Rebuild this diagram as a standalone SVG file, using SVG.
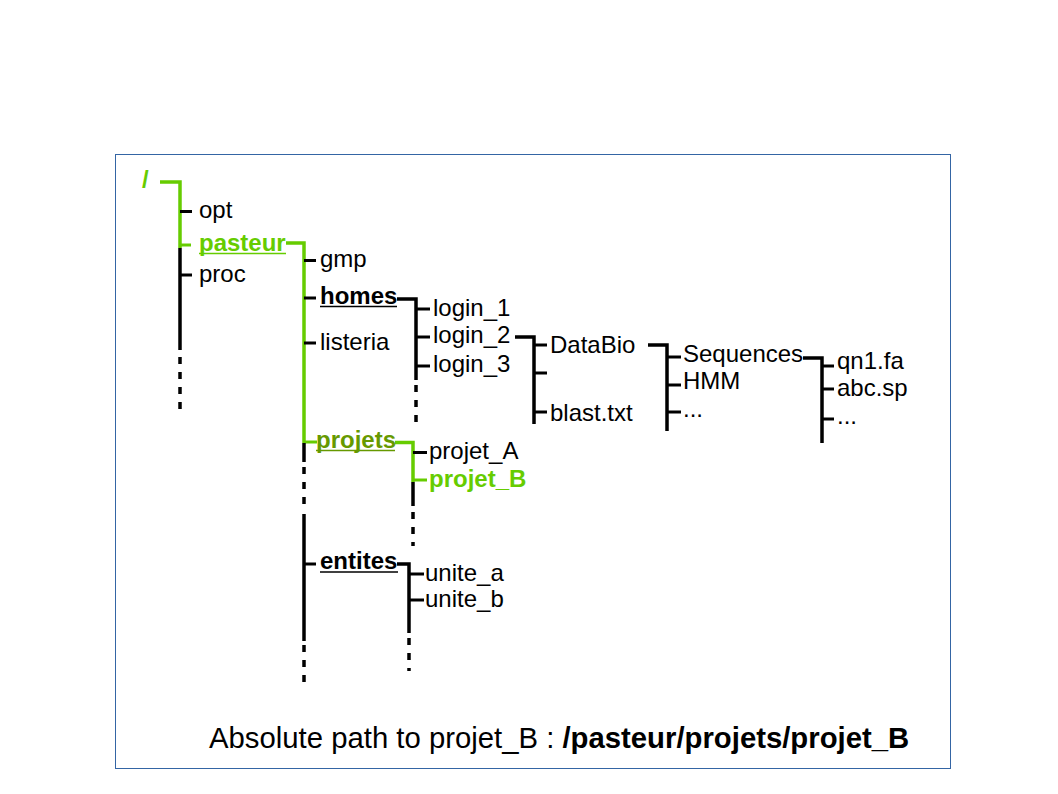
<svg xmlns="http://www.w3.org/2000/svg" width="1058" height="794" viewBox="0 0 1058 794">
<style>
text{font-family:"Liberation Sans",Arial,sans-serif;font-size:24px;fill:#000}
.b{font-weight:bold}
.g{fill:#66cc00}
.o{fill:#669900}
.ln{fill:none;stroke:#000;stroke-width:3.5;stroke-linejoin:miter;stroke-linecap:butt}
.gl{fill:none;stroke:#66cc00;stroke-width:3.5;stroke-linejoin:miter;stroke-linecap:butt}
.tk{stroke:#000;stroke-width:3}
.gtk{stroke:#66cc00;stroke-width:3}
.ds{stroke:#000;stroke-width:3.5;stroke-dasharray:7 8}
.ul{stroke-width:1.5}
</style>
<rect x="115.5" y="154.5" width="835" height="614" fill="#fff" stroke="#3465a4" stroke-width="1"/>
<g id="connectors">
  <path class="gl" d="M160,182 H180 V248"/>
  <line class="ln" x1="180" y1="248" x2="180" y2="350"/>
  <line class="ds" x1="180" y1="357" x2="180" y2="411"/>
  <line class="tk" x1="180" y1="211.5" x2="192" y2="211.5"/>
  <line class="gtk" x1="180" y1="245" x2="191" y2="245"/>
  <line class="tk" x1="180" y1="275" x2="192" y2="275"/>
  <path class="gl" d="M286,243 H304 V443"/>
  <line class="gtk" x1="304" y1="442" x2="317" y2="442"/>
  <line class="ln" x1="304" y1="443" x2="304" y2="462"/>
  <line class="ds" x1="304" y1="467" x2="304" y2="510"/>
  <line class="ln" x1="304" y1="514" x2="304" y2="641"/>
  <line class="ds" x1="304" y1="645" x2="304" y2="688"/>
  <line class="tk" x1="304" y1="260.5" x2="316" y2="260.5"/>
  <line class="tk" x1="304" y1="298" x2="316" y2="298"/>
  <line class="tk" x1="304" y1="343" x2="316" y2="343"/>
  <line class="tk" x1="304" y1="564" x2="316" y2="564"/>
  <path class="ln" d="M397,299 H416 V380"/>
  <line class="ds" x1="416" y1="385" x2="416" y2="425"/>
  <line class="tk" x1="416" y1="309" x2="430" y2="309"/>
  <line class="tk" x1="416" y1="337" x2="430" y2="337"/>
  <line class="tk" x1="416" y1="366" x2="430" y2="366"/>
  <path class="ln" d="M515,337 H534 V424"/>
  <line class="tk" x1="534" y1="345" x2="547" y2="345"/>
  <line class="tk" x1="534" y1="373" x2="547" y2="373"/>
  <line class="tk" x1="534" y1="412" x2="547" y2="412"/>
  <path class="ln" d="M648,345 H667 V431"/>
  <line class="tk" x1="667" y1="357" x2="681" y2="357"/>
  <line class="tk" x1="667" y1="385" x2="681" y2="385"/>
  <line class="tk" x1="667" y1="412" x2="681" y2="412"/>
  <path class="ln" d="M803,358 H822 V443"/>
  <line class="tk" x1="822" y1="366" x2="834" y2="366"/>
  <line class="tk" x1="822" y1="389" x2="834" y2="389"/>
  <line class="tk" x1="822" y1="419" x2="834" y2="419"/>
  <path class="gl" d="M395,442.5 H413 V482"/>
  <line class="gtk" x1="413" y1="480" x2="427" y2="480"/>
  <line class="tk" x1="413" y1="452.5" x2="427" y2="452.5"/>
  <line class="ln" x1="413" y1="482" x2="413" y2="506"/>
  <line class="ds" x1="413" y1="512" x2="413" y2="546"/>
  <path class="ln" d="M397,564 H409 V633"/>
  <line class="ds" x1="409" y1="638" x2="409" y2="671"/>
  <line class="tk" x1="409" y1="574" x2="424" y2="574"/>
  <line class="tk" x1="409" y1="600" x2="424" y2="600"/>
</g>
<g id="n-root"><text class="b g" x="142" y="188">/</text></g>
<g id="n-opt"><text x="199" y="218">opt</text></g>
<g id="n-pasteur"><text class="b g" x="199" y="251">pasteur</text><line class="gtk ul" x1="199" y1="253.5" x2="286" y2="253.5"/></g>
<g id="n-proc"><text x="199" y="282">proc</text></g>
<g id="n-gmp"><text x="320" y="267">gmp</text></g>
<g id="n-homes"><text class="b" x="320" y="304">homes</text><line class="tk ul" x1="320" y1="306.5" x2="397" y2="306.5"/></g>
<g id="n-listeria"><text x="320" y="350">listeria</text></g>
<g id="n-projets"><text class="b o" x="316" y="448">projets</text><line class="ul" stroke="#669900" x1="316" y1="450.5" x2="395" y2="450.5"/></g>
<g id="n-entites"><text class="b" x="320" y="569">entites</text><line class="tk ul" x1="320" y1="572" x2="398" y2="572"/></g>
<g id="n-login_1"><text x="433" y="316">login_1</text></g>
<g id="n-login_2"><text x="433" y="343">login_2</text></g>
<g id="n-login_3"><text x="433" y="372">login_3</text></g>
<g id="n-DataBio"><text x="550" y="353">DataBio</text></g>
<g id="n-blast"><text x="550" y="421">blast.txt</text></g>
<g id="n-Sequences"><text x="683" y="362">Sequences</text></g>
<g id="n-HMM"><text x="683" y="389">HMM</text></g>
<g id="n-dots1"><text x="683" y="417">...</text></g>
<g id="n-qn1"><text x="837" y="369">qn1.fa</text></g>
<g id="n-abc"><text x="837" y="396">abc.sp</text></g>
<g id="n-dots2"><text x="837" y="424">...</text></g>
<g id="n-projet_A"><text x="429" y="459">projet_A</text></g>
<g id="n-projet_B"><text class="b g" x="429" y="487">projet_B</text></g>
<g id="n-unite_a"><text x="425" y="581">unite_a</text></g>
<g id="n-unite_b"><text x="425" y="607">unite_b</text></g>
<g id="caption"><text x="209" y="748" style="font-size:29.3px">Absolute path to projet_B : <tspan class="b">/pasteur/projets/projet_B</tspan></text></g>
</svg>
